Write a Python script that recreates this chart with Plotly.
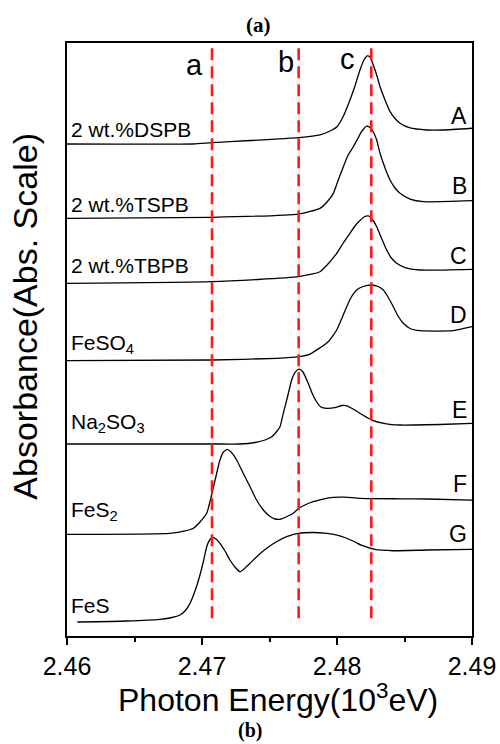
import plotly.graph_objects as go

# ---- data (photon energy in 10^3 eV, stacked absorbance in arbitrary units) ----
energy_A = [2.46000, 2.46933, 2.47074, 2.47716, 2.47874, 2.47948, 2.48000, 2.48044, 2.48096, 2.48133,
            2.48170, 2.48200, 2.48224, 2.48244, 2.48269, 2.48294, 2.48319, 2.48356, 2.48393, 2.48430,
            2.48467, 2.48541, 2.48664, 2.48785, 2.49000]
abs_A = [8.297, 8.297, 8.319, 8.403, 8.449, 8.516, 8.589, 8.752, 9.039, 9.275,
         9.545, 9.713, 9.781, 9.764, 9.629, 9.460, 9.263, 9.039, 8.842, 8.727,
         8.646, 8.567, 8.533, 8.533, 8.562]

energy_B = [2.46000, 2.47074, 2.47716, 2.47874, 2.47926, 2.47973, 2.48007, 2.48047, 2.48081, 2.48121,
            2.48156, 2.48185, 2.48220, 2.48244, 2.48269, 2.48294, 2.48319, 2.48356, 2.48393, 2.48430,
            2.48467, 2.48541, 2.48640, 2.49000]
abs_B = [7.044, 7.061, 7.116, 7.212, 7.319, 7.465, 7.673, 7.914, 8.103, 8.251,
         8.398, 8.516, 8.600, 8.575, 8.499, 8.364, 8.140, 7.892, 7.690, 7.555,
         7.465, 7.369, 7.324, 7.341]

energy_C = [2.46000, 2.47074, 2.47716, 2.47874, 2.47933, 2.47998, 2.48044, 2.48096, 2.48133, 2.48170,
            2.48200, 2.48232, 2.48259, 2.48294, 2.48326, 2.48368, 2.48400, 2.48442, 2.48504, 2.48615,
            2.49000]
abs_C = [5.948, 5.975, 6.059, 6.143, 6.273, 6.454, 6.619, 6.791, 6.914, 7.007,
         7.066, 7.083, 7.032, 6.902, 6.728, 6.509, 6.383, 6.285, 6.214, 6.172,
         6.184]

energy_D = [2.46000, 2.47074, 2.47553, 2.47716, 2.47800, 2.47933, 2.47998, 2.48037, 2.48072, 2.48104,
            2.48146, 2.48193, 2.48257, 2.48304, 2.48343, 2.48378, 2.48417, 2.48452, 2.48491, 2.48541,
            2.48615, 2.48861, 2.49000]
abs_D = [4.643, 4.654, 4.683, 4.710, 4.755, 4.958, 5.160, 5.363, 5.553, 5.708,
         5.835, 5.894, 5.919, 5.894, 5.835, 5.717, 5.553, 5.396, 5.273, 5.186,
         5.148, 5.148, 5.216]

energy_E = [2.46000, 2.47074, 2.47281, 2.47393, 2.47467, 2.47519, 2.47556, 2.47578, 2.47602, 2.47622,
            2.47644, 2.47664, 2.47689, 2.47711, 2.47726, 2.47748, 2.47787, 2.47815, 2.47850, 2.47881,
            2.47924, 2.47985, 2.48037, 2.48074, 2.48119, 2.48185, 2.48257, 2.48356, 2.48467, 2.48565,
            2.48763, 2.49000]
abs_E = [3.238, 3.238, 3.238, 3.263, 3.305, 3.364, 3.457, 3.530, 3.755, 3.929,
         4.132, 4.317, 4.444, 4.494, 4.497, 4.452, 4.261, 4.098, 3.946, 3.862,
         3.840, 3.853, 3.887, 3.882, 3.828, 3.735, 3.642, 3.583, 3.558, 3.558,
         3.567, 3.587]

energy_F = [2.46000, 2.46763, 2.46874, 2.46936, 2.46985, 2.47035, 2.47074, 2.47104, 2.47133, 2.47159,
            2.47187, 2.47215, 2.47257, 2.47304, 2.47356, 2.47400, 2.47454, 2.47504, 2.47541, 2.47578,
            2.47622, 2.47676, 2.47716, 2.47770, 2.47824, 2.47896, 2.47973, 2.48059, 2.48170, 2.48467,
            2.48664, 2.49000]
abs_F = [1.715, 1.732, 1.771, 1.816, 1.922, 2.069, 2.406, 2.698, 2.968, 3.103,
         3.148, 3.103, 2.968, 2.749, 2.518, 2.310, 2.125, 2.015, 1.973, 1.968,
         2.007, 2.069, 2.153, 2.218, 2.265, 2.310, 2.339, 2.341, 2.322, 2.314,
         2.310, 2.293]

energy_G = [2.46076, 2.46442, 2.46689, 2.46778, 2.46837, 2.46874, 2.46911, 2.46948, 2.46985, 2.47011,
            2.47035, 2.47059, 2.47079, 2.47104, 2.47133, 2.47170, 2.47207, 2.47244, 2.47281, 2.47319,
            2.47356, 2.47415, 2.47479, 2.47548, 2.47627, 2.47716, 2.47815, 2.47924, 2.48000, 2.48072,
            2.48133, 2.48195, 2.48281, 2.48417, 2.48664, 2.49000]
abs_G = [0.236, 0.253, 0.282, 0.312, 0.354, 0.422, 0.551, 0.759, 1.029, 1.265,
         1.506, 1.627, 1.664, 1.636, 1.563, 1.433, 1.282, 1.164, 1.084, 1.147,
         1.226, 1.358, 1.479, 1.585, 1.675, 1.732, 1.745, 1.732, 1.703, 1.648,
         1.585, 1.518, 1.459, 1.438, 1.450, 1.462]

curve_letters = ["A", "B", "C", "D", "E", "F", "G"]
sample_names = ["2 wt.%DSPB", "2 wt.%TSPB", "2 wt.%TBPB", "FeSO<sub>4</sub>",
                "Na<sub>2</sub>SO<sub>3</sub>", "FeS<sub>2</sub>", "FeS"]
ref_letters = ["a", "b", "c"]
ref_energies = [2.47074, 2.47716, 2.48254]
x_tick_vals = [2.46, 2.47, 2.48, 2.49]
x_tick_text = ["2.46", "2.47", "2.48", "2.49"]

energies = [energy_A, energy_B, energy_C, energy_D, energy_E, energy_F, energy_G]
absorb = [abs_A, abs_B, abs_C, abs_D, abs_E, abs_F, abs_G]

FONT = "Liberation Sans, Arial, sans-serif"
SERIF = "Liberation Serif, Times New Roman, serif"

fig = go.Figure()
for xs, ys, name in zip(energies, absorb, curve_letters):
    fig.add_trace(go.Scatter(x=xs, y=ys, mode="lines", name=name,
                             line=dict(color="black", width=1.3, shape="spline", smoothing=0.5),
                             showlegend=False, hoverinfo="skip"))

for e in ref_energies:
    fig.add_shape(type="line", xref="x", yref="paper", x0=e, x1=e, y0=0.03, y1=0.995,
                  line=dict(color="#ff1a1a", width=2.6, dash="12px,6px"), layer="above")

# letter labels (right), sample names (left)
right_y = [8.77, 7.59, 6.41, 5.41, 3.81, 2.56, 1.72]
left_y = [8.54, 7.28, 6.24, 4.93, 3.60, 2.10, 0.52]
for lab, yy in zip(curve_letters, right_y):
    fig.add_annotation(x=0.993, xref="paper", y=yy, yref="y", text=lab, showarrow=False,
                       xanchor="right", yanchor="middle", font=dict(family=FONT, size=23, color="black"))
for lab, yy in zip(sample_names, left_y):
    fig.add_annotation(x=0.005, xref="paper", y=yy, yref="y", text=lab, showarrow=False,
                       xanchor="left", yanchor="middle", font=dict(family=FONT, size=21, color="black"))

ref_label_pos = [(2.46941, 9.63), (2.47622, 9.68), (2.48081, 9.73)]
for lab, (xx, yy) in zip(ref_letters, ref_label_pos):
    fig.add_annotation(x=xx, y=yy, xref="x", yref="y", text=lab, showarrow=False,
                       xanchor="center", yanchor="middle", font=dict(family=FONT, size=29, color="black"))

# axis titles and panel marks
fig.add_annotation(x=-0.104, xref="paper", y=0.540, yref="paper", text="Absorbance(Abs. Scale)",
                   textangle=-90, showarrow=False, xanchor="center", yanchor="middle",
                   font=dict(family=FONT, size=34, color="black"))
fig.add_annotation(x=0.521, xref="paper", y=-0.105, yref="paper", text="Photon Energy(10<sup>3</sup>eV)",
                   showarrow=False, xanchor="center", yanchor="middle",
                   font=dict(family=FONT, size=32, color="black"))
fig.add_annotation(x=0.472, xref="paper", y=1.030, yref="paper", text="<b>(a)</b>",
                   showarrow=False, xanchor="center", yanchor="middle",
                   font=dict(family=SERIF, size=21, color="black"))
fig.add_annotation(x=0.452, xref="paper", y=-0.160, yref="paper", text="<b>(b)</b>",
                   showarrow=False, xanchor="center", yanchor="middle",
                   font=dict(family=SERIF, size=20, color="black"))

fig.update_layout(
    width=500, height=744,
    margin=dict(l=67, r=28, t=43, b=108),
    plot_bgcolor="white", paper_bgcolor="white",
    xaxis=dict(range=[2.46, 2.49], tickvals=x_tick_vals, ticktext=x_tick_text, automargin=False,
               showline=True, mirror=True, linecolor="black", linewidth=1.5,
               ticks="outside", ticklen=7, tickwidth=1.5, tickcolor="black",
               minor=dict(ticks="outside", ticklen=4, tickwidth=1.5, tickcolor="black", dtick=0.005,
                          showgrid=False),
               showgrid=False, zeroline=False,
               tickfont=dict(family=FONT, size=25, color="black")),
    yaxis=dict(range=[0, 10], showline=True, mirror=True, linecolor="black", linewidth=1.5,
               automargin=False,
               showticklabels=False, ticks="", showgrid=False, zeroline=False),
)

fig.write_html("out.html")
